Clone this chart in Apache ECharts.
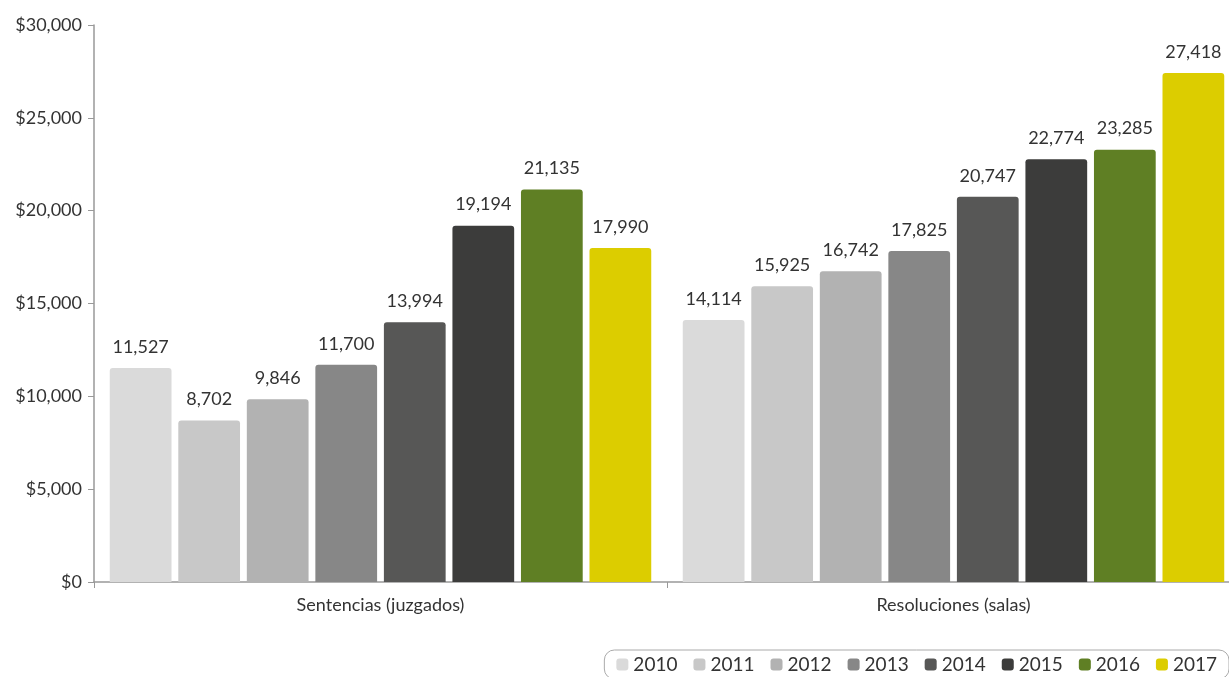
<!DOCTYPE html>
<html><head><meta charset="utf-8">
<script src="https://cdn.jsdelivr.net/npm/echarts@6/dist/echarts.min.js"></script>
<style>html,body{margin:0;padding:0;background:#fff;overflow:hidden}#c{width:1240px;height:677px}</style>
</head><body><div id="c"></div>
<script>
const categories = ['Sentencias (juzgados)', 'Resoluciones (salas)'];
const years = ['2010','2011','2012','2013','2014','2015','2016','2017'];
const v2010 = [11527, 14114];
const v2011 = [8702, 15925];
const v2012 = [9846, 16742];
const v2013 = [11700, 17825];
const v2014 = [13994, 20747];
const v2015 = [19194, 22774];
const v2016 = [21135, 23285];
const v2017 = [17990, 27418];
const yTicks = [0, 5000, 10000, 15000, 20000, 25000, 30000];

const values = [v2010, v2011, v2012, v2013, v2014, v2015, v2016, v2017];
const colors = ['#dadada','#c8c8c8','#b2b2b2','#878787','#575756','#3c3c3b','#5f7f24','#dccd00'];
const font = 'Lato, "Open Sans", sans-serif';
const chart = echarts.init(document.getElementById('c'));
chart.setOption({
  animation: false,
  textStyle: { fontFamily: font },
  grid: { left: 94, right: 0, top: 25, bottom: 95, containLabel: false },
  legend: {
    data: years, right: 11, bottom: -2, itemWidth: 12, itemHeight: 12, itemGap: 16,
    icon: 'roundRect',
    borderColor: '#aaa', borderWidth: 1, borderRadius: 10, padding: [5, 12, 5, 12],
    textStyle: { fontSize: 19, color: '#333', fontFamily: font }
  },
  xAxis: {
    type: 'category', data: categories,
    axisLine: { lineStyle: { color: '#999', width: 1.5 } },
    axisTick: { show: true, length: 6, lineStyle: { color: '#999' } },
    axisLabel: { fontSize: 18, color: '#333', margin: 14 }
  },
  yAxis: {
    type: 'value', min: yTicks[0], max: yTicks[yTicks.length-1], interval: 5000,
    axisLine: { show: true, lineStyle: { color: '#999', width: 1.5 } },
    axisTick: { show: true, length: 6, lineStyle: { color: '#999' } },
    splitLine: { show: false },
    axisLabel: { fontSize: 18, color: '#333', margin: 12,
      formatter: v => '$' + v.toLocaleString('en-US') }
  },
  series: years.map((y, i) => ({
    name: y, type: 'bar', data: values[i],
    barGap: '11%', barCategoryGap: '5.5%',
    itemStyle: { color: colors[i], borderRadius: [3,3,0,0] },
    label: { show: true, position: 'top', distance: 12, fontSize: 18, color: '#333',
      formatter: p => p.value.toLocaleString('en-US') }
  }))
});
</script></body></html>
